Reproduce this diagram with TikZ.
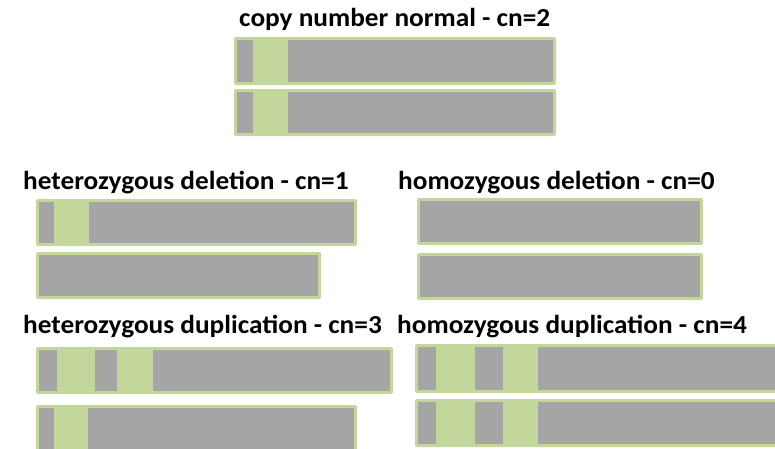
\documentclass[tikz,border=0pt]{standalone}
\usepackage{fontspec}
\setmainfont{Carlito}
\definecolor{cngreen}{HTML}{C3D69B}
\definecolor{cngray}{HTML}{A5A5A5}
\newcommand{\cnbar}[5]{%
  \fill[cngreen, rounded corners=2pt] (#1,#2) rectangle (#3,#4);
  \foreach \a/\b in {#5}{\fill[cngray] (\a,#2+3) rectangle (\b,#4-3);}%
}
\newcommand{\cnlab}[1]{\scalebox{1.05}[1]{#1}}
\begin{document}
\begin{tikzpicture}[x=1pt,y=-1pt,
  lab/.style={anchor=base west, inner sep=0pt, font=\fontsize{26}{30}\selectfont\bfseries}]
\useasboundingbox (0,0) rectangle (775,448);
% labels
\node[lab] (tnorm) at (239,26) {\cnlab{copy number normal - cn=2}};
\node[lab] (thetdel) at (23,189) {\cnlab{heterozygous deletion - cn=1}};
\node[lab] (thomdel) at (398,189) {\cnlab{homozygous deletion - cn=0}};
\node[lab] (thetdup) at (23,333) {\cnlab{heterozygous duplication - cn=3}};
\node[lab] (thomdup) at (397,333) {\cnlab{homozygous duplication - cn=4}};
% normal
\cnbar{234}{37}{556}{85}{237/253,288/553}
\cnbar{234}{89}{556}{136}{237/253,288/553}
% heterozygous deletion
\cnbar{36}{199}{357}{246}{39/54,89/354}
\cnbar{36}{252}{321}{299}{39/318}
% homozygous deletion
\cnbar{417}{198}{703}{245}{420/700}
\cnbar{417}{253}{703}{300}{420/700}
% heterozygous duplication
\cnbar{36}{347}{393}{394}{39/57,95/117,153/390}
\cnbar{36}{405}{357}{452}{39/54,88/354}
% homozygous duplication
\cnbar{415}{344}{780}{393}{418/436,475/503,538/780}
\cnbar{415}{399}{780}{447}{418/436,475/503,538/780}
\end{tikzpicture}
\end{document}
